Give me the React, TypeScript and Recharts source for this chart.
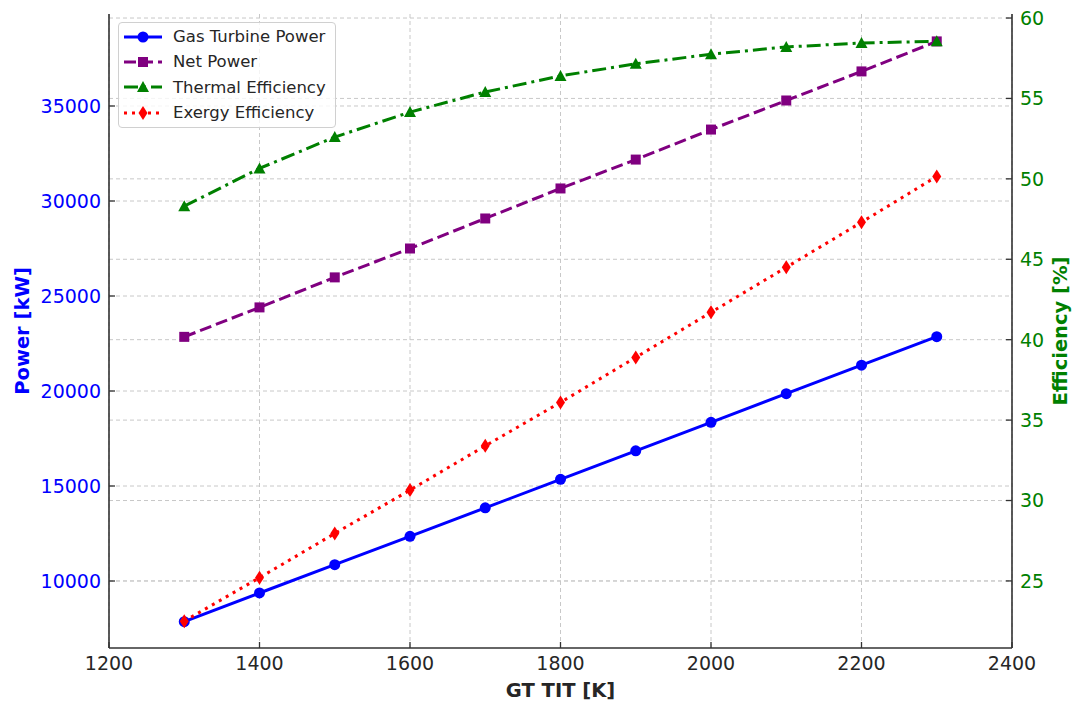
import React from "react";
import {
  ComposedChart,
  Line,
  XAxis,
  YAxis,
  CartesianGrid,
  Label,
} from "recharts";

const titK = [1300, 1400, 1500, 1600, 1700, 1800, 1900, 2000, 2100, 2200, 2300];
const gtPower = [7860, 9370, 10860, 12350, 13850, 15350, 16850, 18350, 19860, 21360, 22860];
const netPower = [22850, 24400, 25980, 27500, 29080, 30660, 32180, 33760, 35290, 36820, 38400];
const thermalEff = [48.3, 50.65, 52.6, 54.15, 55.4, 56.4, 57.15, 57.75, 58.2, 58.45, 58.55];
const exergyEff = [22.5, 25.2, 27.95, 30.65, 33.4, 36.1, 38.9, 41.7, 44.5, 47.3, 50.15];

const xTicks = [1200, 1400, 1600, 1800, 2000, 2200, 2400];
const leftTicks = [10000, 15000, 20000, 25000, 30000, 35000];
const rightTicks = [25, 30, 35, 40, 45, 50, 55, 60];

const data = titK.map((t, i) => ({
  t,
  gt: gtPower[i],
  net: netPower[i],
  th: thermalEff[i],
  ex: exergyEff[i],
}));

const FONT = "DejaVu Sans, Verdana, sans-serif";
const SPINE = "#333";
const TICK_FS = 19;
const MARGIN = 8;

const LeftTick = (p: any) => (
  <g>
    <line x1={p.x + MARGIN} x2={p.x + MARGIN + 6} y1={p.y} y2={p.y} stroke={SPINE} strokeWidth={1.3} />
    <text x={p.x} y={p.y} dy="0.36em" textAnchor="end" fill="#0000ff" fontSize={TICK_FS} fontFamily={FONT}>
      {p.payload.value}
    </text>
  </g>
);

const RightTick = (p: any) => (
  <g>
    <line x1={p.x - MARGIN} x2={p.x - MARGIN - 6} y1={p.y} y2={p.y} stroke={SPINE} strokeWidth={1.3} />
    <text x={p.x} y={p.y} dy="0.36em" textAnchor="start" fill="#008000" fontSize={TICK_FS} fontFamily={FONT}>
      {p.payload.value}
    </text>
  </g>
);

const BottomTick = (p: any) => (
  <g>
    <line x1={p.x} x2={p.x} y1={p.y - MARGIN} y2={p.y - MARGIN - 6} stroke={SPINE} strokeWidth={1.3} />
    <text x={p.x} y={p.y} dy="0.76em" textAnchor="middle" fill="#262626" fontSize={TICK_FS} fontFamily={FONT}>
      {p.payload.value}
    </text>
  </g>
);

const CircleDot = (p: any) => (
  <circle key={`c${p.index}`} cx={p.cx} cy={p.cy} r={5.5} fill="#0000ff" />
);
const SquareDot = (p: any) => (
  <rect key={`s${p.index}`} x={p.cx - 5} y={p.cy - 5} width={10} height={10} fill="#800080" />
);
const TriDot = (p: any) => (
  <polygon
    key={`t${p.index}`}
    points={`${p.cx},${p.cy - 6} ${p.cx + 6},${p.cy + 5} ${p.cx - 6},${p.cy + 5}`}
    fill="#008000"
  />
);
const DiamondDot = (p: any) => (
  <polygon
    key={`d${p.index}`}
    points={`${p.cx},${p.cy - 7} ${p.cx + 4.5},${p.cy} ${p.cx},${p.cy + 7} ${p.cx - 4.5},${p.cy}`}
    fill="#ff0000"
  />
);

const legendItems = [
  { name: "Gas Turbine Power", color: "#0000ff", dash: undefined as string | undefined, marker: "circle" },
  { name: "Net Power", color: "#800080", dash: "12 5", marker: "square" },
  { name: "Thermal Efficiency", color: "#008000", dash: "14 5 3 5", marker: "triangle" },
  { name: "Exergy Efficiency", color: "#ff0000", dash: "3 5", marker: "diamond" },
];

const LegendMarker = ({ marker, color }: { marker: string; color: string }) => {
  const cx = 19;
  const cy = 7;
  if (marker === "circle") return <circle cx={cx} cy={cy} r={5.5} fill={color} />;
  if (marker === "square") return <rect x={cx - 5} y={cy - 5} width={10} height={10} fill={color} />;
  if (marker === "triangle")
    return <polygon points={`${cx},${cy - 6} ${cx + 6},${cy + 5} ${cx - 6},${cy + 5}`} fill={color} />;
  return <polygon points={`${cx},${cy - 7} ${cx + 4.5},${cy} ${cx},${cy + 7} ${cx - 4.5},${cy}`} fill={color} />;
};

const LegendBox = () => (
  <div
    style={{
      position: "absolute",
      left: 118,
      top: 22,
      background: "rgba(255,255,255,0.8)",
      border: "1px solid #d0d0d0",
      borderRadius: 4,
      padding: "1px 8px 2px 5px",
      width: 203,
      fontFamily: FONT,
      fontSize: 16.5,
      color: "#262626",
    }}
  >
    {legendItems.map((it) => (
      <div key={it.name} style={{ display: "flex", alignItems: "center", height: 25.3 }}>
        <svg width={38} height={14} style={{ marginRight: 11, overflow: "visible" }}>
          <line x1={0} x2={38} y1={7} y2={7} stroke={it.color} strokeWidth={3} strokeDasharray={it.dash} />
          <LegendMarker marker={it.marker} color={it.color} />
        </svg>
        <span style={{ whiteSpace: "nowrap" }}>{it.name}</span>
      </div>
    ))}
  </div>
);

export default function App() {
  return (
    <div style={{ position: "absolute", left: 0, top: 0, width: 1075, height: 704, background: "#fff" }}>
      <ComposedChart
        width={1075}
        height={704}
        data={data}
        margin={{ top: 14, right: 0, bottom: 0, left: 29 }}
      >
        <CartesianGrid
          yAxisId="left"
          stroke="#c8c8c8"
          strokeDasharray="4 3"
          horizontal
          vertical
          horizontalValues={leftTicks}
          verticalValues={xTicks}
        />
        <CartesianGrid
          yAxisId="right"
          stroke="#c8c8c8"
          strokeDasharray="4 3"
          horizontal
          vertical={false}
          horizontalValues={rightTicks}
        />
        <XAxis
          dataKey="t"
          type="number"
          domain={[1200, 2400]}
          ticks={xTicks}
          height={56}
          tickSize={0}
          tickMargin={MARGIN}
          tick={<BottomTick />}
          axisLine={{ stroke: SPINE, strokeWidth: 1.6 }}
          tickLine={false}
          interval={0}
        >
          <Label
            content={(p: any) => (
              <text
                x={p.viewBox.x + p.viewBox.width / 2}
                y={690}
                textAnchor="middle"
                dominantBaseline="central"
                fontFamily={FONT}
                fontWeight="bold"
                fontSize={19.5}
                fill="#262626"
              >
                GT TIT [K]
              </text>
            )}
          />
        </XAxis>
        <XAxis
          xAxisId="top"
          dataKey="t"
          type="number"
          orientation="top"
          domain={[1200, 2400]}
          height={0}
          tick={false}
          tickLine={false}
          axisLine={{ stroke: SPINE, strokeWidth: 1.6 }}
        />
        <YAxis
          yAxisId="left"
          type="number"
          domain={[6474, 39842]}
          ticks={leftTicks}
          width={80}
          tickSize={0}
          tickMargin={MARGIN}
          tick={<LeftTick />}
          axisLine={{ stroke: SPINE, strokeWidth: 1.6 }}
          tickLine={false}
          interval={0}
          allowDataOverflow
        >
          <Label
            content={(p: any) => (
              <text
                x={22}
                y={p.viewBox.y + p.viewBox.height / 2}
                transform={`rotate(-90, 22, ${p.viewBox.y + p.viewBox.height / 2})`}
                textAnchor="middle"
                dominantBaseline="central"
                fontFamily={FONT}
                fontWeight="bold"
                fontSize={19.5}
                fill="#0000ff"
              >
                Power [kW]
              </text>
            )}
          />
        </YAxis>
        <YAxis
          yAxisId="right"
          orientation="right"
          type="number"
          domain={[20.83, 60.25]}
          ticks={rightTicks}
          width={63}
          tickSize={0}
          tickMargin={MARGIN}
          tick={<RightTick />}
          axisLine={{ stroke: SPINE, strokeWidth: 1.6 }}
          tickLine={false}
          interval={0}
          allowDataOverflow
        >
          <Label
            content={(p: any) => (
              <text
                x={1060}
                y={p.viewBox.y + p.viewBox.height / 2}
                transform={`rotate(-90, 1060, ${p.viewBox.y + p.viewBox.height / 2})`}
                textAnchor="middle"
                dominantBaseline="central"
                fontFamily={FONT}
                fontWeight="bold"
                fontSize={19.5}
                fill="#008000"
              >
                Efficiency [%]
              </text>
            )}
          />
        </YAxis>
        <Line
          yAxisId="left"
          dataKey="gt"
          name="Gas Turbine Power"
          stroke="#0000ff"
          strokeWidth={3}
          dot={<CircleDot />}
          activeDot={false}
          isAnimationActive={false}
        />
        <Line
          yAxisId="left"
          dataKey="net"
          name="Net Power"
          stroke="#800080"
          strokeWidth={3}
          strokeDasharray="12 5"
          dot={<SquareDot />}
          activeDot={false}
          isAnimationActive={false}
        />
        <Line
          yAxisId="right"
          dataKey="th"
          name="Thermal Efficiency"
          stroke="#008000"
          strokeWidth={3}
          strokeDasharray="14 5 3 5"
          dot={<TriDot />}
          activeDot={false}
          isAnimationActive={false}
        />
        <Line
          yAxisId="right"
          dataKey="ex"
          name="Exergy Efficiency"
          stroke="#ff0000"
          strokeWidth={3}
          strokeDasharray="3 5"
          dot={<DiamondDot />}
          activeDot={false}
          isAnimationActive={false}
        />
      </ComposedChart>
      <LegendBox />
    </div>
  );
}
